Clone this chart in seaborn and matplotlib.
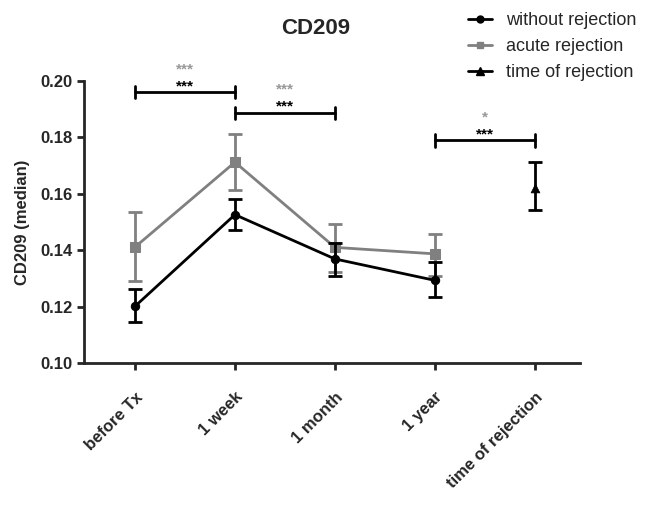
import matplotlib
matplotlib.use("Agg")
import matplotlib.pyplot as plt
import seaborn as sns
import pandas as pd
import numpy as np
from matplotlib.lines import Line2D

sns.set_style("ticks")
plt.rcParams['font.family'] = ['Liberation Sans', 'DejaVu Sans']

categories = ["before Tx", "1 week", "1 month", "1 year", "time of rejection"]

without_x = [0, 1, 2, 3]
without_y = [0.1201, 0.1526, 0.1369, 0.1293]
without_lo = [0.1146, 0.1473, 0.1310, 0.1234]
without_hi = [0.1263, 0.1581, 0.1425, 0.1357]

acute_x = [0, 1, 2, 3]
acute_y = [0.1411, 0.1712, 0.1410, 0.1387]
acute_lo = [0.1290, 0.1612, 0.1322, 0.1310]
acute_hi = [0.1536, 0.1812, 0.1494, 0.1458]

rej_x = [4]
rej_y = [0.1620]
rej_lo = [0.1541]
rej_hi = [0.1711]

brackets = [(0, 1, 0.1960, "***", "***"), (1, 2, 0.1887, "***", "***"), (3, 4, 0.1789, "*", "***")]

BLACK = "#000000"
GRAY = "#808080"
STAR_GRAY = "#999999"

fig = plt.figure(figsize=(6.53, 5.08), dpi=100)
ax = fig.add_axes([0.1286, 0.2854, 0.888 - 0.1286, 0.8406 - 0.2854])

df_w = pd.DataFrame({"x": without_x, "y": without_y})
df_a = pd.DataFrame({"x": acute_x, "y": acute_y})
df_r = pd.DataFrame({"x": rej_x, "y": rej_y})

def errs(y, lo, hi):
    y = np.array(y); return [y - np.array(lo), np.array(hi) - y]

ax.errorbar(acute_x, acute_y, yerr=errs(acute_y, acute_lo, acute_hi), fmt="none",
            ecolor=GRAY, elinewidth=2, capsize=5, capthick=2, zorder=2)
sns.lineplot(data=df_a, x="x", y="y", ax=ax, color=GRAY, marker="s", markersize=7,
             markeredgecolor=GRAY, linewidth=2, zorder=3)
ax.errorbar(without_x, without_y, yerr=errs(without_y, without_lo, without_hi), fmt="none",
            ecolor=BLACK, elinewidth=2, capsize=5, capthick=2, zorder=4)
sns.lineplot(data=df_w, x="x", y="y", ax=ax, color=BLACK, marker="o", markersize=6,
             markeredgecolor=BLACK, linewidth=2, zorder=5)
ax.errorbar(rej_x, rej_y, yerr=errs(rej_y, rej_lo, rej_hi), fmt="none",
            ecolor=BLACK, elinewidth=2, capsize=5, capthick=2, zorder=4)
sns.scatterplot(data=df_r, x="x", y="y", ax=ax, color=BLACK, marker="^", s=40,
                edgecolor=BLACK, zorder=5)

for x0, x1, yb, top, bot in brackets:
    ax.plot([x0, x1], [yb, yb], color=BLACK, lw=2, clip_on=False)
    ax.plot([x0, x0], [yb - 0.0022, yb + 0.0022], color=BLACK, lw=2, clip_on=False)
    ax.plot([x1, x1], [yb - 0.0022, yb + 0.0022], color=BLACK, lw=2, clip_on=False)
    xm = (x0 + x1) / 2
    ax.text(xm, yb + 0.0008, bot, ha="center", va="baseline", fontsize=11,
            fontweight="bold", color=BLACK, clip_on=False)
    ax.text(xm, yb + 0.0068, top, ha="center", va="baseline", fontsize=11,
            fontweight="bold", color=STAR_GRAY, clip_on=False)

ax.set_xlim(-0.51, 4.45)
ax.set_ylim(0.10, 0.20)
yt = [0.10, 0.12, 0.14, 0.16, 0.18, 0.20]
ax.set_yticks(yt)
ax.set_yticklabels([f"{v:.2f}" for v in yt], fontweight="bold", fontsize=12)
ax.set_xticks(range(len(categories)))
ax.set_xticklabels(categories, rotation=45, ha="right", rotation_mode="anchor",
                   fontweight="bold", fontsize=12)
ax.set_xlabel("")
ax.set_ylabel("CD209 (median)", fontweight="bold", fontsize=12, labelpad=8)
sns.despine(ax=ax)
for s in ["left", "bottom"]:
    ax.spines[s].set_linewidth(2)
ax.tick_params(width=2, length=5)
ax.tick_params(axis="x", pad=14)
ax.tick_params(axis="y", pad=3)

fig.text(316 / 653, 1 - 28 / 508, "CD209", ha="center", va="center", fontsize=16, fontweight="bold")

handles = [
    Line2D([0], [0], color=BLACK, marker="o", markersize=5, lw=2),
    Line2D([0], [0], color=GRAY, marker="s", markersize=5, lw=2),
    Line2D([0], [0], color=BLACK, marker="^", markersize=6, lw=2),
]
fig.legend(handles, ["without rejection", "acute rejection", "time of rejection"],
           loc="upper left", bbox_to_anchor=(468 / 653, 1 - 12 / 508), frameon=False, fontsize=13,
           handlelength=1.33, labelspacing=0.5, handletextpad=0.78,
           borderpad=0, borderaxespad=0)

fig.savefig("out.png", dpi=100, facecolor="white")
